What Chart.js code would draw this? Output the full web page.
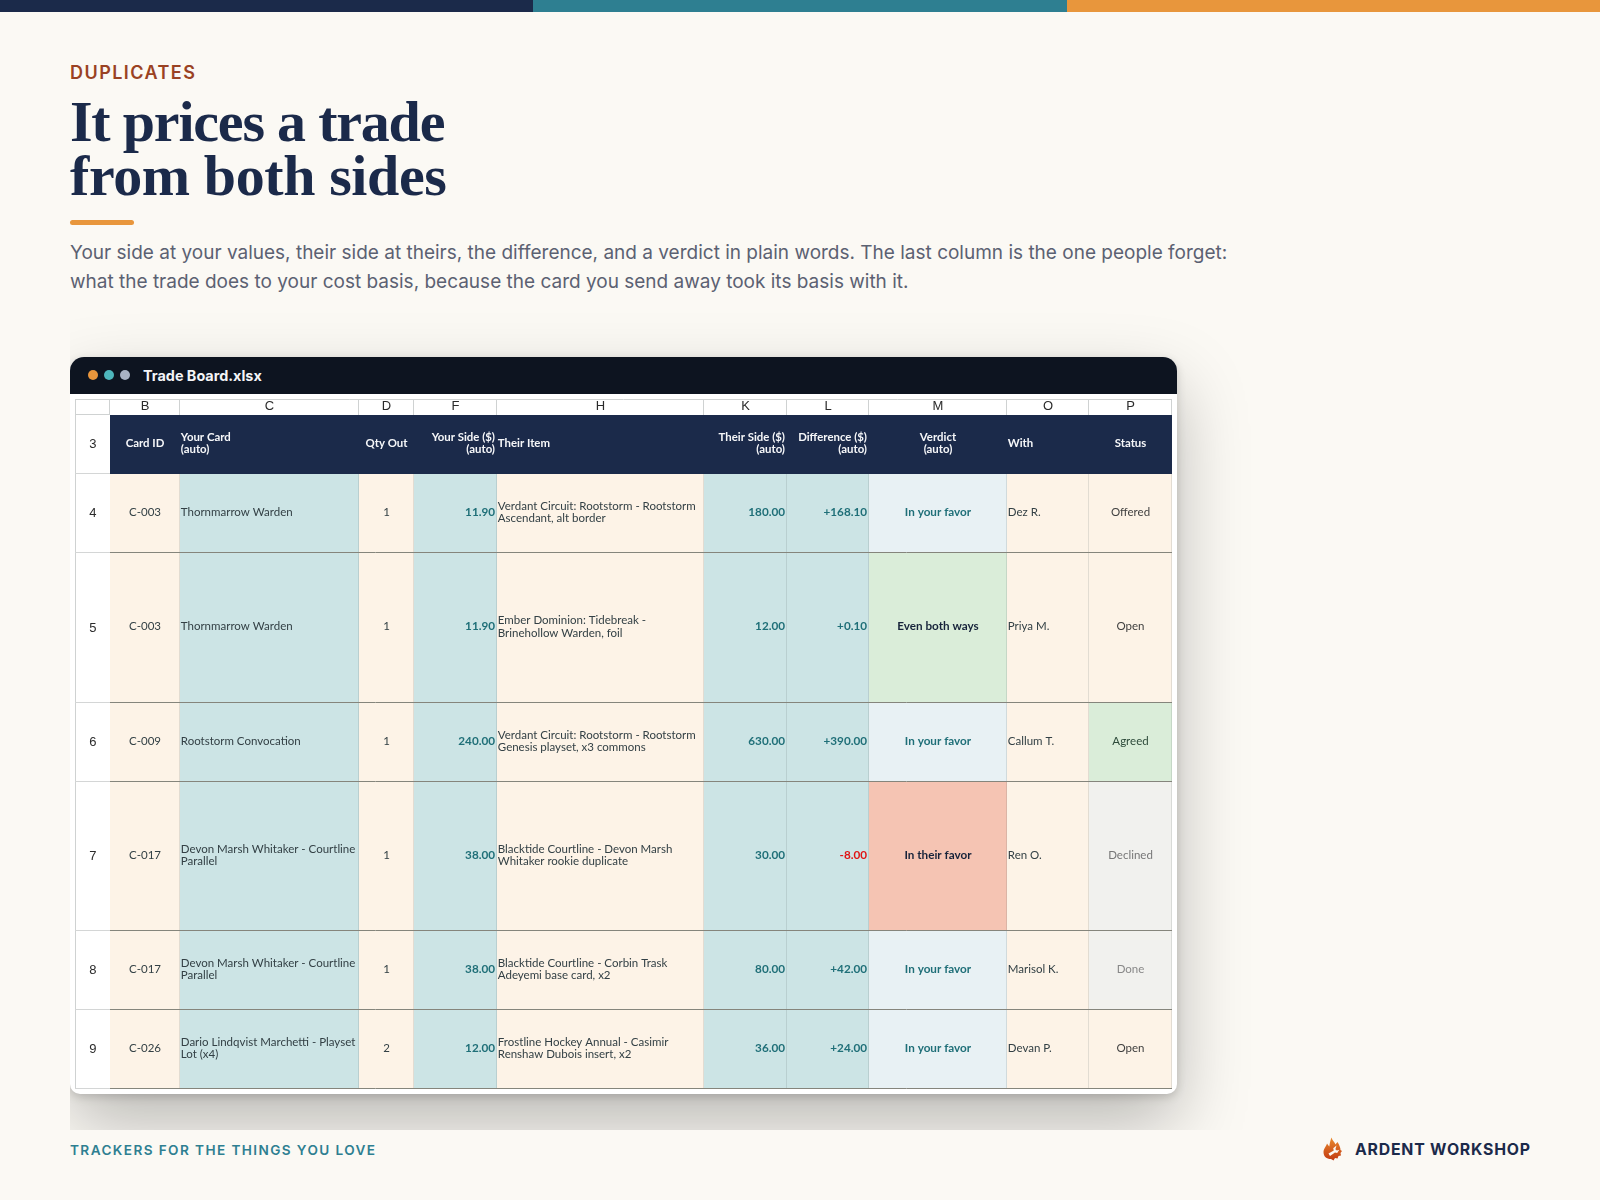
<!DOCTYPE html>
<html>
<head>
<meta charset="utf-8">
<title>It prices a trade from both sides</title>
<script src="https://cdn.jsdelivr.net/npm/chart.js@4"></script>
<style>
  html, body { margin: 0; padding: 0; }
  body { width: 1600px; height: 1200px; background: #fbf9f4; position: relative; overflow: hidden; font-family: Inter, sans-serif; }
  .abs { position: absolute; white-space: nowrap; }
  .band { position: absolute; top: 0; height: 12px; }
  #kicker { left: 70px; top: 61px; font-size: 18px; line-height: 24px; font-weight: 600; letter-spacing: 1.45px; color: #9a4223; }
  #title { left: 70px; top: 95px; font-family: "Liberation Serif", serif; font-size: 58px; line-height: 54px; font-weight: 700; color: #1b2a4a; }
  #rule { left: 70px; top: 220px; width: 64px; height: 5px; border-radius: 3px; background: #e8963c; }
  #sub { left: 70px; top: 239px; font-size: 19px; line-height: 28.5px; color: #5b6172; }
  #clip { position: absolute; left: 70px; top: 300px; width: 1300px; height: 830px; overflow: hidden; }
  #win { position: absolute; left: 0; top: 57px; width: 1107px; height: 737px; background: #fff; border-radius: 14px 14px 10px 10px; box-shadow: 0 30px 70px rgba(0,0,0,.26), 0 3px 10px rgba(0,0,0,.16); }
  #bar { position: absolute; left: 0; top: 0; width: 100%; height: 37px; background: #0d1420; border-radius: 14px 14px 0 0; }
  .dot { position: absolute; top: 13px; width: 10px; height: 10px; border-radius: 50%; }
  #fname { left: 73px; top: 8px; font-size: 14.4px; line-height: 22px; font-weight: 700; color: #f4f5f7; }
  #board { position: absolute; left: 75px; top: 399px; }
  #foot { left: 70px; top: 1140px; font-size: 13.6px; line-height: 20px; font-weight: 600; letter-spacing: 1.4px; color: #2e7f91; }
  #brand { left: 1355px; top: 1139px; font-size: 15.8px; line-height: 22px; font-weight: 700; letter-spacing: .8px; color: #1b2a4a; }
  #logo { position: absolute; left: 1320px; top: 1136px; }
</style>
</head>
<body>
<div class="band" style="left:0;width:533px;background:#1b2a4a"></div>
<div class="band" style="left:533px;width:534px;background:#2e7f91"></div>
<div class="band" style="left:1067px;width:533px;background:#e8963c"></div>

<div class="abs" id="kicker">DUPLICATES</div>
<div class="abs" id="title"><span style="letter-spacing:-1.2px">It prices a trade</span><br><span style="letter-spacing:-.4px">from both sides</span></div>
<div class="abs" id="rule"></div>
<div class="abs" id="sub">Your side at your values, their side at theirs, the difference, and a verdict in plain words. The last column is the one people forget:<br>what the trade does to your cost basis, because the card you send away took its basis with it.</div>

<div id="clip">
  <div id="win">
    <div id="bar">
      <div class="dot" style="left:18px;background:#e8963c"></div>
      <div class="dot" style="left:34px;background:#4db6bc"></div>
      <div class="dot" style="left:50px;background:#a9b2c3"></div>
      <div class="abs" id="fname">Trade Board.xlsx</div>
    </div>
  </div>
</div>
<canvas id="board" width="1097" height="690"></canvas>

<div class="abs" id="foot">TRACKERS FOR THE THINGS YOU LOVE</div>
<svg id="logo" width="24" height="28" viewBox="0 0 24 28">
  <defs>
    <linearGradient id="flame" x1="0" y1="0" x2="0" y2="1">
      <stop offset="0" stop-color="#e98a2c"/>
      <stop offset="1" stop-color="#c23a12"/>
    </linearGradient>
  </defs>
  <path d="M11.5 1.5 C12.5 5 14.5 5.5 15.5 8.5 C16.5 7 17 6.5 17.5 6 C19.5 9 20.5 12 20.5 14 L22 15 L20.5 17 L21 19.5 L18.5 20 L17.5 22.5 L15 22 L13.5 24.5 L11 23 C6.5 23 3.5 20.5 3.5 16 C3.5 12.5 6 11 7 7.5 C8 9 8.7 9.8 9.3 10.4 C9.8 6.5 10.5 4.5 11.5 1.5 Z" fill="url(#flame)"/>
  <path d="M16.5 9.5 L13.2 12.3 L13.8 14.5 L8.5 17.5 L10 20 L15 16.4 L17.2 17 L19.3 13.7 L16.9 14.6 L15.4 13.2 Z" fill="#fbf9f4"/>
</svg>
<div class="abs" id="brand">ARDENT WORKSHOP</div>

<script>
// sheet content
const colLetters = ["B", "C", "D", "F", "H", "K", "L", "M", "O", "P"];
const rowNumbers = ["3", "4", "5", "6", "7", "8", "9"];
const headers = ["Card ID", "Your Card\n(auto)", "Qty Out", "Your Side ($)\n(auto)", "Their Item", "Their Side ($)\n(auto)", "Difference ($)\n(auto)", "Verdict\n(auto)", "With", "Status"];

const cardIds = ["C-003", "C-003", "C-009", "C-017", "C-017", "C-026"];
const yourCards = ["Thornmarrow Warden", "Thornmarrow Warden", "Rootstorm Convocation", "Devon Marsh Whitaker - Courtline\nParallel", "Devon Marsh Whitaker - Courtline\nParallel", "Dario Lindqvist Marchetti - Playset\nLot (x4)"];
const qtyOut = [1, 1, 1, 1, 1, 2];
const yourSide = [11.90, 11.90, 240.00, 38.00, 38.00, 12.00];
const theirItems = ["Verdant Circuit: Rootstorm - Rootstorm\nAscendant, alt border", "Ember Dominion: Tidebreak -\nBrinehollow Warden, foil", "Verdant Circuit: Rootstorm - Rootstorm\nGenesis playset, x3 commons", "Blacktide Courtline - Devon Marsh\nWhitaker rookie duplicate", "Blacktide Courtline - Corbin Trask\nAdeyemi base card, x2", "Frostline Hockey Annual - Casimir\nRenshaw Dubois insert, x2"];
const theirSide = [180.00, 12.00, 630.00, 30.00, 80.00, 36.00];
const difference = [168.10, 0.10, 390.00, -8.00, 42.00, 24.00];
const verdicts = ["In your favor", "Even both ways", "In your favor", "In their favor", "In your favor", "In your favor"];
const withWho = ["Dez R.", "Priya M.", "Callum T.", "Ren O.", "Marisol K.", "Devan P."];
const statuses = ["Offered", "Open", "Agreed", "Declined", "Done", "Open"];

// sheet layout, in pixels of the source sheet
const colWidths = [70, 179, 55, 83, 207, 83, 82, 138, 82, 83];
const rowHeights = [59, 79, 150, 79, 149, 79, 79];

const PEACH = "#fdf3e7", TEAL = "#cce4e5", NAVY = "#1b2a4a";
const INK = "#334045", TEALINK = "#1f6f78";
const colFills = [PEACH, TEAL, PEACH, TEAL, PEACH, TEAL, TEAL, null, PEACH, null];
const aligns = ["center", "left", "center", "right", "left", "right", "right", "center", "left", "center"];
const verdictFills = { "In your favor": "#e8f1f4", "Even both ways": "#daedd9", "In their favor": "#f5c4b3" };
const verdictInks = { "In your favor": TEALINK, "Even both ways": "#16233a", "In their favor": "#16233a" };
const statusFills = { Offered: PEACH, Open: PEACH, Agreed: "#daedd9", Declined: "#f1f1ee", Done: "#f1f1ee" };
const statusInks = { Offered: "#3f3f3f", Open: "#3f3f3f", Agreed: "#2d4a3a", Declined: "#777", Done: "#888" };

function runningEdges(sizes) {
  let edges = [0];
  sizes.forEach(s => edges.push(edges[edges.length - 1] + s));
  return edges;
}
const colEdges = runningEdges(colWidths);
const rowEdges = runningEdges(rowHeights);
const colCenters = colWidths.map((w, i) => colEdges[i] + w / 2);
const rowCenters = rowHeights.map((h, i) => rowEdges[i] + h / 2);

function money(v) { return v.toFixed(2); }
function signed(v) { return (v > 0 ? "+" : "") + v.toFixed(2); }

function cellText(c, r) {
  if (r === 0) return headers[c];
  let i = r - 1;
  return [cardIds[i], yourCards[i], String(qtyOut[i]), money(yourSide[i]), theirItems[i], money(theirSide[i]), signed(difference[i]), verdicts[i], withWho[i], statuses[i]][c];
}
function cellFill(c, r) {
  if (r === 0) return NAVY;
  if (c === 7) return verdictFills[verdicts[r - 1]];
  if (c === 9) return statusFills[statuses[r - 1]];
  return colFills[c];
}
function cellFont(c, r) {
  if (r === 0) return "700 11.4px Lato";
  if (c === 3 || c === 5 || c === 6 || c === 7) return "700 11.7px Lato";
  return "400 11.5px Lato";
}
function cellInk(c, r) {
  if (r === 0) return "#f6f7f9";
  let i = r - 1;
  if (c === 6 && difference[i] < 0) return "#e01414";
  if (c === 3 || c === 5 || c === 6) return TEALINK;
  if (c === 7) return verdictInks[verdicts[i]];
  if (c === 9) return statusInks[statuses[i]];
  return INK;
}

const datasets = rowHeights.map((h, r) => ({
  label: rowNumbers[r],
  stack: "sheet",
  barThickness: h,
  inflateAmount: 0,
  backgroundColor: colLetters.map((_, c) => cellFill(c, r)),
  data: colLetters.map((_, c) => ({ x: [colEdges[c], colEdges[c + 1]], y: rowCenters[r] }))
}));

// grid rules and cell text, placed through the scales
const sheetPlugin = {
  id: "sheet",
  afterDatasetsDraw(chart) {
    const { ctx, scales: { x, y } } = chart;
    const left = x.getPixelForValue(0), right = x.getPixelForValue(colEdges[colEdges.length - 1]);
    const top = y.getPixelForValue(0), bottom = y.getPixelForValue(rowEdges[rowEdges.length - 1]);
    ctx.save();

    // column rules inside the body
    ctx.lineWidth = 1;
    ctx.strokeStyle = "rgba(90,100,100,.16)";
    colEdges.slice(1).forEach(v => {
      ctx.beginPath();
      ctx.moveTo(x.getPixelForValue(v) - .5, y.getPixelForValue(rowEdges[1]));
      ctx.lineTo(x.getPixelForValue(v) - .5, bottom);
      ctx.stroke();
    });
    // letter row rules
    ctx.strokeStyle = "#cfd2d2";
    colEdges.forEach(v => {
      ctx.beginPath();
      ctx.moveTo(x.getPixelForValue(v) - .5, x.top);
      ctx.lineTo(x.getPixelForValue(v) - .5, top);
      ctx.stroke();
    });
    ctx.beginPath();
    ctx.moveTo(y.left, x.top + .5);
    ctx.lineTo(right, x.top + .5);
    ctx.moveTo(y.left + .5, x.top);
    ctx.lineTo(y.left + .5, bottom);
    ctx.moveTo(y.left, top - .5);
    ctx.lineTo(left, top - .5);
    ctx.stroke();
    // row rules
    rowEdges.slice(1).forEach((v, i) => {
      let py = y.getPixelForValue(v) - .5;
      ctx.strokeStyle = "#d4d6d6";
      ctx.beginPath();
      ctx.moveTo(y.left, py);
      ctx.lineTo(left, py);
      ctx.stroke();
      if (i > 0) {
        ctx.strokeStyle = "#85857c";
        ctx.beginPath();
        ctx.moveTo(left, py);
        ctx.lineTo(right, py);
        ctx.stroke();
      }
    });

    // cell text
    ctx.textBaseline = "middle";
    rowHeights.forEach((h, r) => {
      colWidths.forEach((w, c) => {
        let align = aligns[c];
        let px;
        if (align === "left") px = x.getPixelForValue(colEdges[c]) + 0.8;
        else if (align === "right") px = x.getPixelForValue(colEdges[c + 1]) - 2;
        else px = x.getPixelForValue(colCenters[c]);
        ctx.textAlign = align;
        ctx.font = cellFont(c, r);
        ctx.fillStyle = cellInk(c, r);
        let lines = cellText(c, r).split("\n");
        lines.forEach((line, k) => {
          ctx.fillText(line, px, y.getPixelForValue(rowCenters[r]) - 1.3 + (k - (lines.length - 1) / 2) * 12.4);
        });
      });
    });
    ctx.restore();
  }
};

new Chart(document.getElementById("board"), {
  type: "bar",
  data: { datasets },
  plugins: [sheetPlugin],
  options: {
    indexAxis: "y",
    responsive: false,
    animation: false,
    devicePixelRatio: 1,
    layout: { padding: 0 },
    plugins: { legend: { display: false }, tooltip: { enabled: false } },
    scales: {
      x: {
        type: "linear",
        position: "top",
        stacked: false,
        min: 0,
        max: colEdges[colEdges.length - 1],
        border: { display: false },
        grid: { display: false, drawTicks: false },
        afterFit(scale) { scale.height = 16; scale.paddingLeft = 0; scale.paddingRight = 0; },
        afterBuildTicks(scale) { scale.ticks = colCenters.map(v => ({ value: v })); },
        ticks: {
          autoSkip: false,
          maxRotation: 0,
          padding: 1,
          color: "#2b2b2b",
          font: { family: "Liberation Sans", size: 13 },
          callback: v => colLetters[colCenters.indexOf(v)]
        }
      },
      y: {
        type: "linear",
        reverse: true,
        offset: false,
        min: 0,
        max: rowEdges[rowEdges.length - 1],
        border: { display: false },
        grid: { display: false, offset: false, drawTicks: false },
        afterFit(scale) { scale.width = 35; scale.paddingTop = 0; scale.paddingBottom = 0; },
        afterBuildTicks(scale) { scale.ticks = rowCenters.map(v => ({ value: v })); },
        ticks: {
          autoSkip: false,
          crossAlign: "center",
          padding: 13.5,
          color: "#2b2b2b",
          font: { family: "Liberation Sans", size: 13 },
          callback: v => rowNumbers[rowCenters.indexOf(v)]
        }
      }
    }
  }
});
</script>
</body>
</html>
